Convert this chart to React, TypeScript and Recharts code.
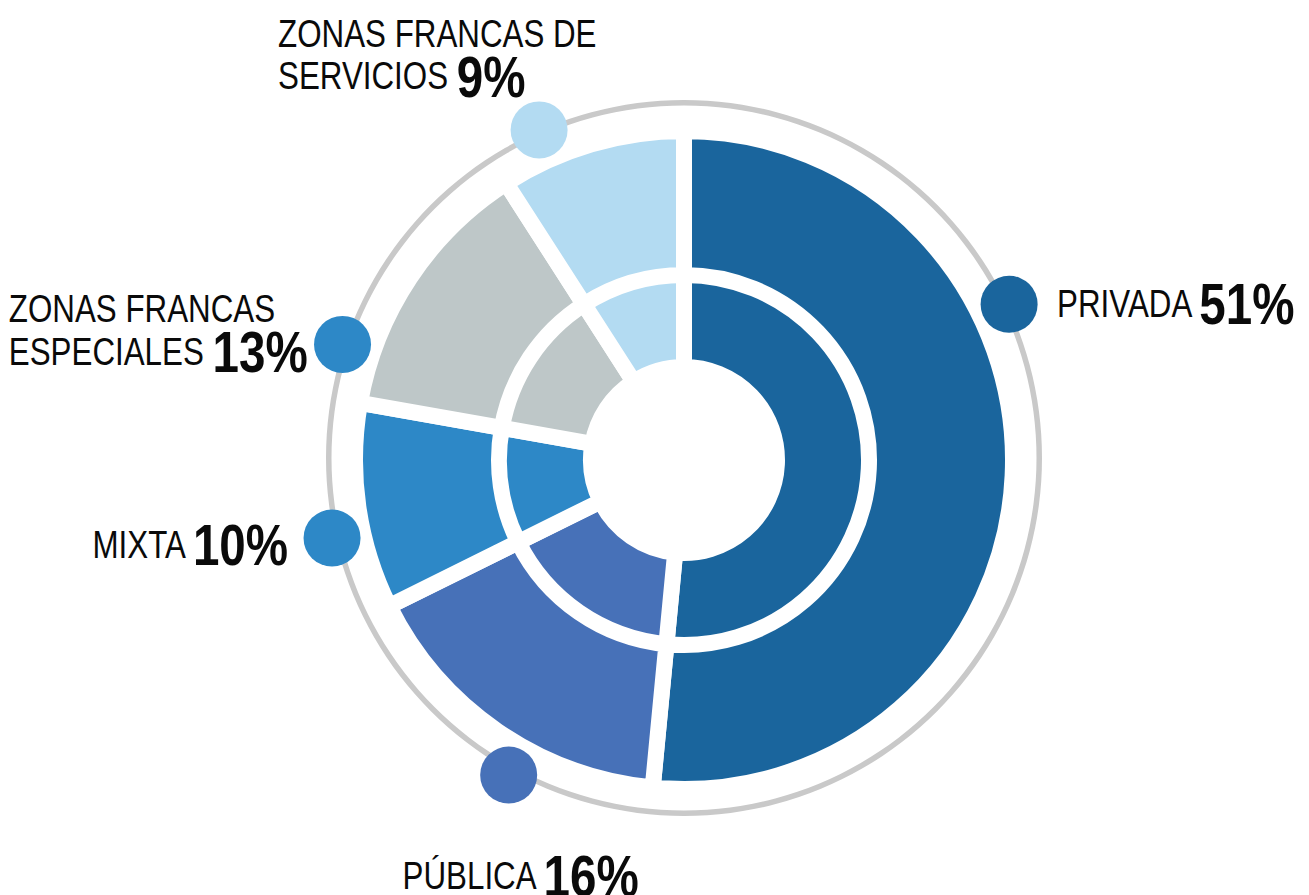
import React from "react";
import { PieChart, Pie, Cell } from "recharts";

const categories = ["PRIVADA", "PÚBLICA", "MIXTA", "ZONAS FRANCAS ESPECIALES", "ZONAS FRANCAS DE SERVICIOS"];
const labelLines = [["PRIVADA"], ["PÚBLICA"], ["MIXTA"], ["ZONAS FRANCAS", "ESPECIALES"], ["ZONAS FRANCAS DE", "SERVICIOS"]];
const shares = [51, 16, 10, 13, 9];

const sliceColors = ["#1a659d", "#4771b8", "#2d88c7", "#bec7c8", "#b3dbf2"];
const dotColors = ["#1a659d", "#4771b8", "#2d88c7", "#2d88c7", "#b3dbf2"];

const data = categories.map((name, i) => ({ name, value: shares[i] }));
const ring = [{ name: "ring", value: 1 }];

// where each label's dot sits on the grey ring, and where its text goes relative to the dot
const layout = [
  { angle: 64.4, anchor: "start", tx: 48, ty: [-1] },
  { angle: 209.1, anchor: "middle", tx: 12, ty: [100.5] },
  { angle: 257.5, anchor: "end", tx: -44, ty: [6.5] },
  { angle: 288.7, anchor: "start", tx: -333.7, ty: [-36.4, 6.8] },
  { angle: 336.3, anchor: "start", tx: -261, ty: [-97, -54.2] },
];

// Liberation Sans squeezed horizontally stands in for a narrow grotesque
const FONT = "'Liberation Sans', Arial, sans-serif";
const SQUEEZE = 0.82;
const REG = 38.2;
const BOLD = 58;
const DOT_R = 360.5;

const renderLabel = (props: any) => {
  const { cx, cy, index } = props;
  const l = layout[index];
  const a = (l.angle * Math.PI) / 180;
  const x = cx + DOT_R * Math.sin(a);
  const y = cy - DOT_R * Math.cos(a);
  const lines = labelLines[index];
  return (
    <g key={`lbl-${index}`}>
      <circle cx={x} cy={y} r={28.5} fill={dotColors[index]} />
      {lines.map((line, j) => {
        const c = y + l.ty[j];
        const last = j === lines.length - 1;
        return (
          <text
            key={j}
            x={0}
            y={c + 0.36 * REG}
            transform={`translate(${x + l.tx} 0) scale(${SQUEEZE} 1)`}
            textAnchor={l.anchor}
            fontFamily={FONT}
            fill="#0a0a0a"
          >
            <tspan fontSize={REG}>{last ? line + " " : line}</tspan>
            {last && (
              <tspan dy={0.36 * (BOLD - REG)} fontSize={BOLD} fontWeight="bold">
                {shares[index]}%
              </tspan>
            )}
          </text>
        );
      })}
    </g>
  );
};

export default function App() {
  return (
    <div style={{ position: "absolute", left: 0, top: 0, background: "#fff" }}>
      <PieChart width={1309} height={895} margin={{ top: 0, right: 0, bottom: 0, left: 0 }}>
        <Pie
          data={ring}
          dataKey="value"
          cx={684}
          cy={458}
          innerRadius={352.5}
          outerRadius={358}
          fill="#c9c9c9"
          stroke="none"
          isAnimationActive={false}
        />
        <Pie
          data={data}
          dataKey="value"
          cx={684}
          cy={460}
          startAngle={90}
          endAngle={-270}
          innerRadius={93}
          outerRadius={186}
          stroke="#fff"
          strokeWidth={16}
          isAnimationActive={false}
        >
          {data.map((d, i) => (
            <Cell key={d.name} fill={sliceColors[i]} />
          ))}
        </Pie>
        <Pie
          data={data}
          dataKey="value"
          cx={684}
          cy={460}
          startAngle={90}
          endAngle={-270}
          innerRadius={185}
          outerRadius={329}
          stroke="#fff"
          strokeWidth={16}
          label={renderLabel}
          labelLine={false}
          isAnimationActive={false}
        >
          {data.map((d, i) => (
            <Cell key={d.name} fill={sliceColors[i]} />
          ))}
        </Pie>
      </PieChart>
    </div>
  );
}
